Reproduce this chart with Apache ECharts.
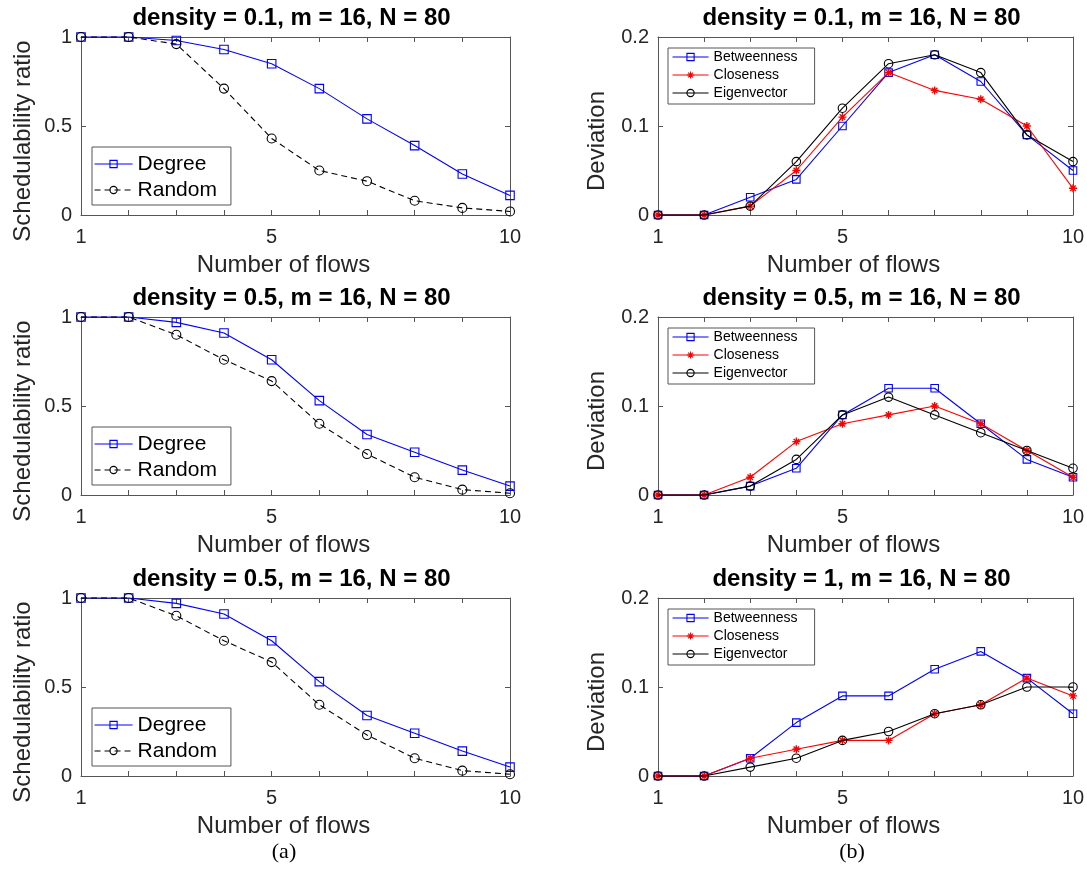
<!DOCTYPE html>
<html>
<head>
<meta charset="utf-8">
<script src="https://cdn.jsdelivr.net/npm/echarts@6/dist/echarts.min.js"></script>
<style>
  html, body { margin: 0; padding: 0; background: #ffffff; }
  #chart { width: 1087px; height: 889px; }
</style>
</head>
<body>
<div id="chart"></div>
<script>
// ---- data ----------------------------------------------------------------
const flows = [1, 2, 3, 4, 5, 6, 7, 8, 9, 10];
const xTickLabels = ['1', '5', '10'];

// schedulability ratio (left column)
const degreeTop = [1, 1, 0.98, 0.93, 0.85, 0.71, 0.54, 0.39, 0.23, 0.11];
const randomTop = [1, 1, 0.96, 0.71, 0.43, 0.25, 0.19, 0.08, 0.04, 0.02];
const degreeMid = [1, 1, 0.97, 0.91, 0.76, 0.53, 0.34, 0.24, 0.14, 0.05];
const randomMid = [1, 1, 0.90, 0.76, 0.64, 0.40, 0.23, 0.10, 0.03, 0.01];
const degreeBot = [1, 1, 0.97, 0.91, 0.76, 0.53, 0.34, 0.24, 0.14, 0.05];
const randomBot = [1, 1, 0.90, 0.76, 0.64, 0.40, 0.23, 0.10, 0.03, 0.01];

// deviation (right column)
const betweennessTop = [0, 0, 0.02, 0.04, 0.10, 0.16, 0.18, 0.15, 0.09, 0.05];
const closenessTop   = [0, 0, 0.01, 0.05, 0.11, 0.16, 0.14, 0.13, 0.10, 0.03];
const eigenvectorTop = [0, 0, 0.01, 0.06, 0.12, 0.17, 0.18, 0.16, 0.09, 0.06];
const betweennessMid = [0, 0, 0.01, 0.03, 0.09, 0.12, 0.12, 0.08, 0.04, 0.02];
const closenessMid   = [0, 0, 0.02, 0.06, 0.08, 0.09, 0.10, 0.08, 0.05, 0.02];
const eigenvectorMid = [0, 0, 0.01, 0.04, 0.09, 0.11, 0.09, 0.07, 0.05, 0.03];
const betweennessBot = [0, 0, 0.02, 0.06, 0.09, 0.09, 0.12, 0.14, 0.11, 0.07];
const closenessBot   = [0, 0, 0.02, 0.03, 0.04, 0.04, 0.07, 0.08, 0.11, 0.09];
const eigenvectorBot = [0, 0, 0.01, 0.02, 0.04, 0.05, 0.07, 0.08, 0.10, 0.10];

const titlesLeft  = ['density = 0.1, m = 16, N = 80', 'density = 0.5, m = 16, N = 80', 'density = 0.5, m = 16, N = 80'];
const titlesRight = ['density = 0.1, m = 16, N = 80', 'density = 0.5, m = 16, N = 80', 'density = 1, m = 16, N = 80'];
const panelCaptions = ['(a)', '(b)'];

// ---- layout & styling ------------------------------------------------------
const FONT = '"Liberation Sans", Arial, Helvetica, sans-serif';
const SERIF = '"Liberation Serif", "Times New Roman", serif';
const AXIS_COLOR = '#555555';
const TEXT_COLOR = '#262626';

const ROW_TOP = [37, 317, 598];
const PLOT_H = 178;
const COL_LEFT = [81, 658];
const COL_WIDTH = [429, 415];

const ASTERISK = 'path://M5,0L5,10M0,5L10,5M1.6,1.6L8.4,8.4M8.4,1.6L1.6,8.4';

const seriesStyle = {
  Degree:      { color: '#0000ff', symbol: 'rect',   size: 8.5, dash: 'solid' },
  Random:      { color: '#000000', symbol: 'circle', size: 9,   dash: [6, 4] },
  Betweenness: { color: '#0000ff', symbol: 'rect',   size: 7.5, dash: 'solid' },
  Closeness:   { color: '#ff0000', symbol: ASTERISK, size: 8,   dash: 'solid' },
  Eigenvector: { color: '#000000', symbol: 'circle', size: 8.5, dash: 'solid' }
};

const panels = [
  { col: 0, row: 0, title: titlesLeft[0],  kind: 'ratio', lines: [['Degree', degreeTop], ['Random', randomTop]] },
  { col: 1, row: 0, title: titlesRight[0], kind: 'dev',   lines: [['Betweenness', betweennessTop], ['Closeness', closenessTop], ['Eigenvector', eigenvectorTop]] },
  { col: 0, row: 1, title: titlesLeft[1],  kind: 'ratio', lines: [['Degree', degreeMid], ['Random', randomMid]] },
  { col: 1, row: 1, title: titlesRight[1], kind: 'dev',   lines: [['Betweenness', betweennessMid], ['Closeness', closenessMid], ['Eigenvector', eigenvectorMid]] },
  { col: 0, row: 2, title: titlesLeft[2],  kind: 'ratio', lines: [['Degree', degreeBot], ['Random', randomBot]] },
  { col: 1, row: 2, title: titlesRight[2], kind: 'dev',   lines: [['Betweenness', betweennessBot], ['Closeness', closenessBot], ['Eigenvector', eigenvectorBot]] }
];

const grid = [], xAxis = [], yAxis = [], series = [], legend = [], graphic = [];

const axisLine = { show: true, onZero: false, lineStyle: { color: AXIS_COLOR, width: 1 } };
const axisTick = { show: true, inside: true, length: 5, lineStyle: { color: AXIS_COLOR, width: 1 } };

panels.forEach((p, i) => {
  const left = COL_LEFT[p.col], width = COL_WIDTH[p.col], top = ROW_TOP[p.row];
  const isRatio = p.kind === 'ratio';

  grid.push({ left: left, top: top, width: width, height: PLOT_H, containLabel: false, outerBoundsMode: 'none' });

  const xBase = { type: 'value', gridIndex: i, min: 1, max: 10, interval: 1,
    splitLine: { show: false }, axisLine: axisLine, axisTick: axisTick };
  xAxis.push(Object.assign({}, xBase, {
    position: 'bottom',
    name: 'Number of flows', nameLocation: 'middle', nameGap: 38, nameMoveOverlap: false,
    nameTextStyle: { fontFamily: FONT, fontSize: 24, color: TEXT_COLOR, padding: [0, 24, 0, 0] },
    axisLabel: { show: true, margin: 12, fontFamily: FONT, fontSize: 20, color: TEXT_COLOR,
      formatter: v => (xTickLabels.indexOf(String(v)) >= 0 ? String(v) : '') }
  }));
  xAxis.push(Object.assign({}, xBase, { position: 'top', axisLabel: { show: false } }));

  const yMax = isRatio ? 1 : 0.2;
  const yStep = isRatio ? 0.5 : 0.1;
  const yBase = { type: 'value', gridIndex: i, min: 0, max: yMax, interval: yStep,
    splitLine: { show: false }, axisLine: axisLine, axisTick: axisTick };
  yAxis.push(Object.assign({}, yBase, {
    position: 'left',
    name: isRatio ? 'Schedulability ratio' : 'Deviation',
    nameLocation: 'middle', nameGap: isRatio ? 46 : 49, nameMoveOverlap: false,
    nameTextStyle: { fontFamily: FONT, fontSize: 24, color: TEXT_COLOR, padding: [0, 30, 0, 0] },
    axisLabel: { show: true, margin: 9, fontFamily: FONT, fontSize: 20, color: TEXT_COLOR }
  }));
  yAxis.push(Object.assign({}, yBase, { position: 'right', axisLabel: { show: false } }));

  p.lines.forEach(([name, values], k) => {
    const s = seriesStyle[name];
    series.push({
      type: 'line', name: name,
      xAxisIndex: 2 * i, yAxisIndex: 2 * i,
      data: flows.map((f, j) => [f, values[j]]),
      symbol: s.symbol, symbolSize: s.size, showSymbol: true, clip: false,
      lineStyle: { color: s.color, width: 1.1, type: s.dash },
      itemStyle: { color: 'none', borderColor: s.color, borderWidth: name === 'Closeness' ? 1.4 : 1.1 },
      emphasis: { disabled: true },
      z: 2 + k, animation: false
    });
  });

  const legendCommon = {
    orient: 'vertical', itemGap: 0, itemHeight: 9,
    backgroundColor: '#ffffff', borderColor: AXIS_COLOR, borderWidth: 1, borderRadius: 0,
    itemStyle: { borderWidth: 1.1 },
    lineStyle: { width: 1.1 },
    selectedMode: false
  };
  if (isRatio) {
    legend.push(Object.assign({}, legendCommon, {
      data: ['Degree', 'Random'],
      left: 92, top: top + 110,
      itemWidth: 38,
      padding: [4, 14, 2, 2],
      textStyle: { fontFamily: FONT, fontSize: 21, lineHeight: 26, color: '#000000' }
    }));
  } else {
    legend.push(Object.assign({}, legendCommon, {
      data: ['Betweenness', 'Closeness', 'Eigenvector'],
      left: 668, top: top + 11,
      itemWidth: 36,
      padding: [0, 17, 2, 4],
      textStyle: { fontFamily: FONT, fontSize: 14, lineHeight: 18, color: '#000000' }
    }));
  }

  graphic.push({
    type: 'text', x: left + width / 2 - 4, y: top - 19, silent: true,
    style: { text: p.title, fontFamily: FONT, fontSize: 24, fontWeight: 'bold', fill: '#000000',
      align: 'center', verticalAlign: 'middle' }
  });
});

graphic.push({ type: 'text', x: 284, y: 852, silent: true,
  style: { text: panelCaptions[0], fontFamily: SERIF, fontSize: 22, fill: '#000000', align: 'center', verticalAlign: 'middle' } });
graphic.push({ type: 'text', x: 852, y: 852, silent: true,
  style: { text: panelCaptions[1], fontFamily: SERIF, fontSize: 22, fill: '#000000', align: 'center', verticalAlign: 'middle' } });

const chart = echarts.init(document.getElementById('chart'), null, { renderer: 'canvas' });
chart.setOption({
  backgroundColor: '#ffffff',
  animation: false,
  grid, xAxis, yAxis, series, legend, graphic
});
</script>
</body>
</html>
